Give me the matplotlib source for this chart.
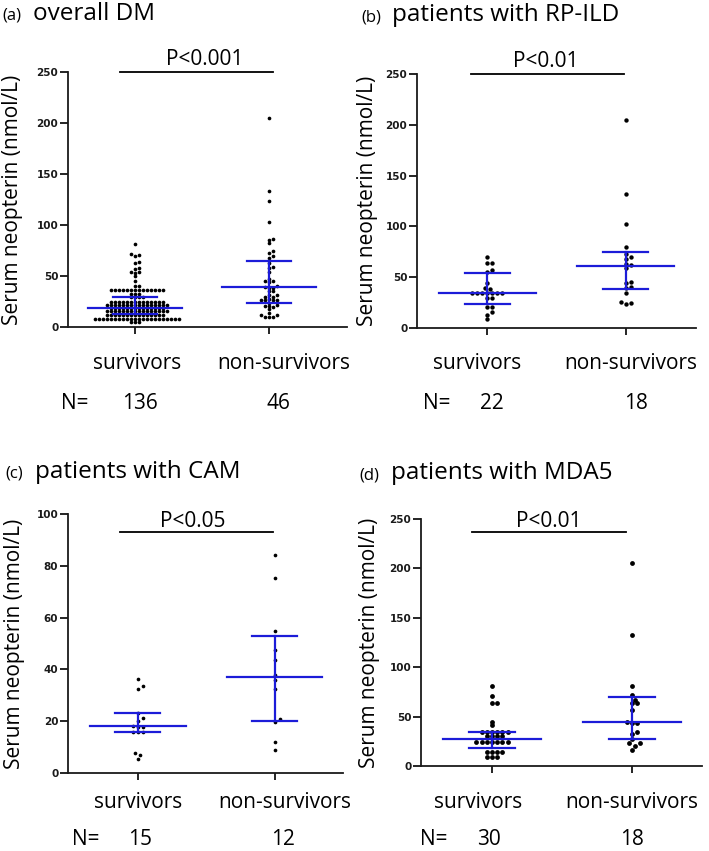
import matplotlib
matplotlib.use("Agg")
import matplotlib.pyplot as plt
import numpy as np

# ---------------- data ----------------
categories = ["survivors", "non-survivors"]

a_survivors = [81, 72, 71, 70, 64, 63, 58, 57, 54, 54, 53, 50, 45, 40, 40,
               36, 36, 36, 36, 36, 36, 36, 36, 36, 36, 36, 36, 36, 36,
               32, 32, 32,
               29, 29, 29, 29,
               25, 25, 25, 25, 25, 25, 25, 25, 25, 25, 25, 25, 25, 25,
               22, 22, 22, 22, 22, 22, 22, 22, 22, 22, 22, 22, 22, 22, 22, 22,
               19, 19, 19, 19, 19, 19, 19, 19, 19, 19, 19, 19, 19, 19,
               16, 16, 16, 16, 16, 16, 16, 16, 16, 16, 16, 16, 16, 16, 16, 16,
               12, 12, 12, 12, 12, 12, 12, 12, 12, 12, 12, 12, 12, 12, 12,
               8, 8, 8, 8, 8, 8, 8, 8, 8, 8, 8, 8, 8, 8, 8, 8, 8, 8, 8, 8, 8, 8,
               5, 5, 5]
a_nonsurvivors = [205, 133, 124, 103, 86, 85, 82, 75, 73, 70,
                  68, 63, 59, 58, 54, 47, 45, 45, 44, 40,
                  39, 38, 38, 35, 35, 31, 31, 29, 29, 27,
                  26, 26, 26, 26, 24, 22, 21, 21, 20, 18,
                  14, 12, 12, 10, 10, 10]

b_survivors = [70, 64, 64, 57, 55, 44, 39, 38,
               34.5, 34.5, 34.5, 34.5, 34.5, 34.5, 34.5,
               30, 29.5, 20.5, 20.5, 15.5, 13, 9]
b_nonsurvivors = [205, 132, 102, 80, 73, 70, 68, 63, 62, 59,
                  45, 44, 40, 39, 34, 26, 25, 24]

c_survivors = [36.2, 33.6, 32.4, 23.3, 21.1, 20.2, 18, 17.8, 17.7,
               15.8, 15.8, 15.8, 7.7, 6.9, 5.5]
c_nonsurvivors = [84, 75.3, 54.7, 47.6, 43.8, 37.7, 36, 32.4,
                  20.8, 19.6, 11.8, 8.8]

d_survivors = [81, 71, 64, 64, 45, 41,
               34, 34, 34, 34, 34, 34,
               30, 30, 30, 30,
               24, 24, 24, 24, 24, 24, 24,
               14, 14, 14, 14,
               9, 9, 9]
d_nonsurvivors = [205.5, 132.4, 81, 72, 67, 63.5, 63.5, 57, 45, 44, 44,
                  34.7, 32.3, 27, 23, 23, 20, 16.5]

# median with interquartile range (q1, median, q3) as drawn
a_summary = [(13, 19, 29), (23.5, 39, 65)]
b_summary = [(23.6, 34.5, 54), (38.3, 60.6, 74.7)]
c_summary = [(15.8, 18, 23.3), (20, 37, 53)]
d_summary = [(18.5, 27.6, 34), (27.6, 44.1, 69.4)]

letters = ["(a)", "(b)", "(c)", "(d)"]
titles = ["overall DM", "patients with RP-ILD", "patients with CAM", "patients with MDA5"]
p_texts = ["P<0.001", "P<0.01", "P<0.05", "P<0.01"]
n_counts = [("136", "46"), ("22", "18"), ("15", "12"), ("30", "18")]
y_ticks = [[0, 50, 100, 150, 200, 250], [0, 50, 100, 150, 200, 250],
           [0, 20, 40, 60, 80, 100], [0, 50, 100, 150, 200, 250]]
sig_levels = [250, 250, 93, 237]

# ---------------- layout ----------------
W, H = 709, 851
fig = plt.figure(figsize=(W / 100, H / 100), dpi=100)

LABEL_FONT = ["Open Sans", "DejaVu Sans"]
BLUE = "#1c1cd8"


def fx(px):
    return px / W


def fy(py):
    return 1 - py / H


# pixel boxes: left, right, top, bottom
boxes = [(68, 347, 72, 327), (417, 696, 74, 328), (68, 343, 514, 773), (421, 702, 519, 766)]
xlims = [(-0.5, 1.58), (-0.51, 1.51), (-0.51, 1.5), (-0.507, 1.5)]
ylims = [(0, 250), (0, 250), (0, 100), (0, 250)]
sig_x = [(-0.11, 1.03), (-0.12, 0.99), (-0.13, 0.985), (-0.14, 0.96)]
title_pos = [(2, 33, 20), (361, 392, 21), (5, 35, 478), (359, 391, 479)]
ylabel_x = [13, 367, 15, 370]
p_pos = [(205, 65), (546, 67), (193, 527), (549, 527)]
cat_y = [369, 369, 808, 808]
n_y = [409, 409, 845, 845]
n_eq_x = [75, 437, 86, 434]
cat_x = [(137, 284), (477, 631), (138, 285), (478, 632)]
n_x = [(140, 278), (492, 636), (140, 283), (489, 632)]
dot_size = [7, 10, 7, 12]
spacing_x = [4.0, 5.0, 5.0, 5.2]
spacing_y = [2.9, 4.0, 4.0, 3.8]

data = [(a_survivors, a_nonsurvivors), (b_survivors, b_nonsurvivors),
        (c_survivors, c_nonsurvivors), (d_survivors, d_nonsurvivors)]
summaries = [a_summary, b_summary, c_summary, d_summary]


def swarm_offsets(vals, ky, sx, sy):
    vals = np.asarray(vals, dtype=float)
    order = np.argsort(vals, kind="stable")
    placed = []
    offs = np.zeros(len(vals))
    step = sx / 2.0
    for i in order:
        y = vals[i] * ky
        c = 0.0
        for k in range(0, 400):
            if k == 0:
                c = 0.0
            else:
                c = ((k + 1) // 2) * step * (1 if k % 2 else -1)
            ok = True
            for (px, py) in placed:
                if ((c - px) / sx) ** 2 + ((y - py) / sy) ** 2 < 0.999:
                    ok = False
                    break
            if ok:
                break
        placed.append((c, y))
        offs[i] = c
    return offs


for idx in range(4):
    l, r, t, b = boxes[idx]
    ax = fig.add_axes([fx(l), fy(b), (r - l) / W, (b - t) / H])
    ax.set_xlim(*xlims[idx])
    ax.set_ylim(*ylims[idx])
    kx = (r - l) / (xlims[idx][1] - xlims[idx][0])
    ky = (b - t) / (ylims[idx][1] - ylims[idx][0])

    for gi, vals in enumerate(data[idx]):
        offs = swarm_offsets(vals, ky, spacing_x[idx], spacing_y[idx]) / kx
        ax.scatter(gi + offs, vals, s=dot_size[idx], color="black",
                   linewidths=0, zorder=3, clip_on=False)
        q1, med, q3 = summaries[idx][gi]
        ax.plot([gi - 0.35, gi + 0.35], [med, med], color=BLUE, lw=1.6, zorder=4)
        ax.plot([gi - 0.165, gi + 0.165], [q1, q1], color=BLUE, lw=1.6, zorder=4)
        ax.plot([gi - 0.165, gi + 0.165], [q3, q3], color=BLUE, lw=1.6, zorder=4)
        ax.plot([gi, gi], [q1, q3], color=BLUE, lw=1.6, zorder=4)

    # significance bar
    ax.plot(list(sig_x[idx]), [sig_levels[idx], sig_levels[idx]], color="black",
            lw=1.3, clip_on=False, zorder=5)

    for s in ["top", "right"]:
        ax.spines[s].set_visible(False)
    for s in ["left", "bottom"]:
        ax.spines[s].set_linewidth(1.3)
        ax.spines[s].set_color("#1a1a1a")
    ax.set_xticks([0, 1])
    ax.set_xticklabels([])
    ax.tick_params(axis="x", length=5, width=1.2, direction="out")
    ax.set_yticks(y_ticks[idx])
    ax.set_yticklabels([str(v) for v in y_ticks[idx]], fontsize=7.5,
                       fontweight="bold", family="DejaVu Sans", color="#1a1a1a")
    ax.tick_params(axis="y", length=6, width=1.2, direction="out", pad=1)
    ax.patch.set_alpha(0)

    # texts
    lx, tx, ty = title_pos[idx]
    fig.text(fx(lx), fy(ty), letters[idx], fontsize=12, family=LABEL_FONT,
             ha="left", va="baseline")
    fig.text(fx(tx), fy(ty), titles[idx], fontsize=17.5, family=LABEL_FONT,
             ha="left", va="baseline")
    fig.text(fx(ylabel_x[idx]), fy((t + b) / 2), "Serum neopterin (nmol/L)",
             rotation=90, fontsize=15, family=LABEL_FONT, ha="center", va="center")
    px, py = p_pos[idx]
    fig.text(fx(px), fy(py), p_texts[idx], fontsize=15, family=LABEL_FONT,
             ha="center", va="baseline")
    for gi in range(2):
        fig.text(fx(cat_x[idx][gi]), fy(cat_y[idx]), categories[gi], fontsize=15,
                 family=LABEL_FONT, ha="center", va="baseline")
        fig.text(fx(n_x[idx][gi]), fy(n_y[idx]), n_counts[idx][gi], fontsize=15,
                 family=LABEL_FONT, ha="center", va="baseline")
    fig.text(fx(n_eq_x[idx]), fy(n_y[idx]), "N=", fontsize=15,
             family=LABEL_FONT, ha="center", va="baseline")

fig.savefig("out.png", dpi=100, facecolor="white")
